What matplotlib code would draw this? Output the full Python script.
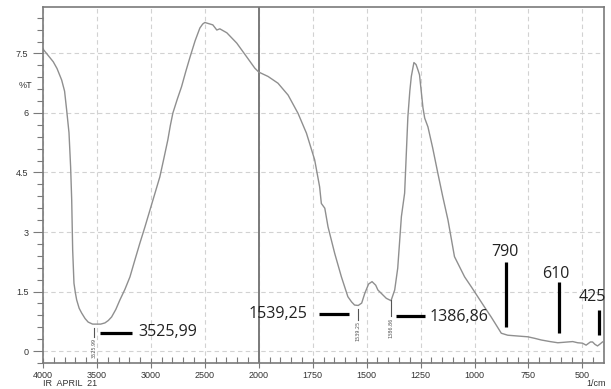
import numpy as np
import matplotlib
matplotlib.use("Agg")
from matplotlib import pyplot as plt
from matplotlib.ticker import FixedLocator

# IR spektrumu (okunan degerler)
wavenumber = [4000, 3905, 3870, 3827, 3800, 3781, 3759, 3744, 3734, 3725, 3713, 3700,
              3688, 3665, 3642, 3610, 3581, 3540, 3503, 3465, 3426, 3395, 3364, 3325,
              3287, 3240, 3194, 3150, 3102, 3055, 3009, 2963, 2917, 2880, 2843, 2820,
              2796, 2755, 2716, 2676, 2637, 2590, 2546, 2520, 2500, 2426, 2389, 2361,
              2296, 2204, 2111, 2037, 2000,
              1957, 1911, 1864, 1818, 1779, 1741, 1718, 1710, 1694, 1679, 1648, 1617,
              1587, 1570, 1556, 1539, 1523, 1509, 1491, 1475, 1458, 1448, 1409, 1387,
              1370, 1356, 1339, 1324, 1309, 1300, 1293, 1281, 1271, 1262, 1255, 1239,
              1231, 1216, 1194, 1170, 1148, 1123, 1093, 1046, 1015, 985, 955, 923, 900,
              876, 846, 800, 753, 720, 691, 650, 614, 590, 568, 545, 522, 500, 483, 463,
              453, 442, 430, 418, 407]
transmit = [7.61, 7.29, 7.12, 6.83, 6.55, 6.08, 5.50, 4.64, 3.81, 2.55, 1.71, 1.47,
            1.29, 1.08, 0.96, 0.82, 0.73, 0.68, 0.68, 0.68, 0.71, 0.77, 0.86, 1.05,
            1.29, 1.56, 1.87, 2.28, 2.72, 3.13, 3.55, 3.97, 4.39, 4.85, 5.32, 5.68,
            6.00, 6.35, 6.66, 7.05, 7.41, 7.82, 8.14, 8.24, 8.28, 8.22, 8.09, 8.12,
            8.02, 7.76, 7.41, 7.13, 7.03,
            6.92, 6.75, 6.45, 5.99, 5.49, 4.82, 4.14, 3.72, 3.60, 3.13, 2.46, 1.87,
            1.37, 1.24, 1.16, 1.15, 1.21, 1.45, 1.69, 1.75, 1.66, 1.54, 1.33, 1.27,
            1.54, 2.09, 3.39, 3.98, 5.90, 6.55, 6.92, 7.27, 7.22, 7.08, 6.96, 6.13,
            5.87, 5.65, 5.12, 4.48, 3.91, 3.30, 2.38, 1.87, 1.62, 1.37, 1.12, 0.86, 0.66,
            0.45, 0.40, 0.38, 0.36, 0.32, 0.28, 0.24, 0.21, 0.22, 0.23, 0.24, 0.21, 0.20, 0.15, 0.23,
            0.23, 0.17, 0.13, 0.18, 0.23]

x_major = [4000, 3500, 3000, 2500, 2000, 1750, 1500, 1250, 1000, 750, 500]
y_major = [0, 1.5, 3, 4.5, 6, 7.5]
y_labels = ["0", "1.5", "3", "4.5", "6", "7.5"]

# tepe etiketleri (kucuk dikey yazilar)
peak_pos = [3525.99, 1539.25, 1386.86]
peak_top = [0.58, 1.06, 1.29]
peak_bot = [0.35, 0.78, 0.88]
peak_txt = ["3525.99", "1539.25", "1386.86"]

# buyuk etiketler
big_txt = ["3525,99", "1539,25", "1386,86"]
big_x = [3120, 1773, 1208]
big_y = [0.49, 0.93, 0.86]
big_ha = ["left", "right", "left"]
dash_x0 = [3472, 1722, 1366]
dash_x1 = [3176, 1583, 1231]
dash_y = [0.46, 0.93, 0.88]

band_txt = ["790", "610", "425"]
band_x = [856, 610, 421]
band_top = [2.25, 1.74, 1.03]
band_bot = [0.61, 0.45, 0.40]
band_lbl_x = [861, 625, 452]
band_lbl_y = [2.50, 1.94, 1.37]


def fwd(w):
    w = np.asarray(w, dtype=float)
    return np.where(w >= 2000, w / 500.0, 4 + (w - 2000) / 250.0)


def inv(p):
    p = np.asarray(p, dtype=float)
    return np.where(p >= 4, p * 500.0, 2000 + (p - 4) * 250.0)


gri = "#7a7a7a"
fig = plt.figure(figsize=(6.11, 3.89), dpi=100)
ax = fig.add_axes([43 / 611, 1 - 363 / 389, 561 / 611, 356 / 389])
ax.set_xscale("function", functions=(fwd, inv))
ax.set_xlim(4000, 400)
ax.set_ylim(-0.3, 8.67)

ax.xaxis.set_major_locator(FixedLocator(x_major))
ax.set_xticklabels([str(v) for v in x_major])
minx = [v for v in range(3900, 2000, -100) if v % 500] + [v for v in range(1950, 400, -50) if v % 250]
ax.xaxis.set_minor_locator(FixedLocator(minx))
ax.yaxis.set_major_locator(FixedLocator(y_major))
ax.set_yticklabels(y_labels)
ax.yaxis.set_minor_locator(FixedLocator([v * 0.3 for v in range(-1, 29) if v % 5]))

ax.grid(True, which="major", color="#d2d2d2", linestyle=(0, (4, 3)), linewidth=0.8)
ax.axvline(2000, color=gri, linewidth=1.4)
for s in ax.spines.values():
    s.set_color(gri)
    s.set_linewidth(1.2)

ax.tick_params(axis="both", which="both", colors=gri, labelcolor="#333333", labelsize=6.5)
ax.tick_params(axis="y", which="major", direction="out", length=7, width=0.8)
ax.tick_params(axis="y", which="minor", direction="out", length=4, width=0.8)
ax.tick_params(axis="x", which="major", direction="inout", length=7, width=0.8, pad=2)
ax.tick_params(axis="x", which="minor", direction="in", length=4, width=0.8)
for t in ax.get_xticklabels() + ax.get_yticklabels():
    t.set_family("Liberation Sans")

ax.plot(wavenumber, transmit, color="#8f8f8f", linewidth=1.0)

for px, t0, t1, tx in zip(peak_pos, peak_top, peak_bot, peak_txt):
    ax.plot([px, px], [t0, t1], color="#555555", linewidth=0.8)
    ax.text(px, t1 - 0.03, tx, rotation=90, ha="center", va="top", fontsize=3.5, color="#555555")

for tx, x, y, ha, a, b, dy in zip(big_txt, big_x, big_y, big_ha, dash_x0, dash_x1, dash_y):
    ax.plot([a, b], [dy, dy], color="black", linewidth=2.3, solid_capstyle="butt")
    ax.text(x, y, tx, ha=ha, va="center", fontsize=11.5, family="Open Sans", color="#222222")

for tx, x, t0, t1, lx, ly in zip(band_txt, band_x, band_top, band_bot, band_lbl_x, band_lbl_y):
    ax.plot([x, x], [t0, t1], color="black", linewidth=2.3, solid_capstyle="butt")
    ax.text(lx, ly, tx, ha="center", va="center", fontsize=11.5, family="Open Sans", color="#222222")

fig.text(25 / 611, 1 - 85 / 389, "%T", ha="center", va="center", fontsize=6.5, family="Liberation Sans", color="#333333")
fig.text(43 / 611, 1 - 383 / 389, "IR  APRIL  21", ha="left", va="center", fontsize=6.5, family="Liberation Sans", color="#333333")
fig.text(606 / 611, 1 - 384 / 389, "1/cm", ha="right", va="center", fontsize=6.5, family="Liberation Sans", color="#333333")

fig.savefig("out.png", dpi=100)
